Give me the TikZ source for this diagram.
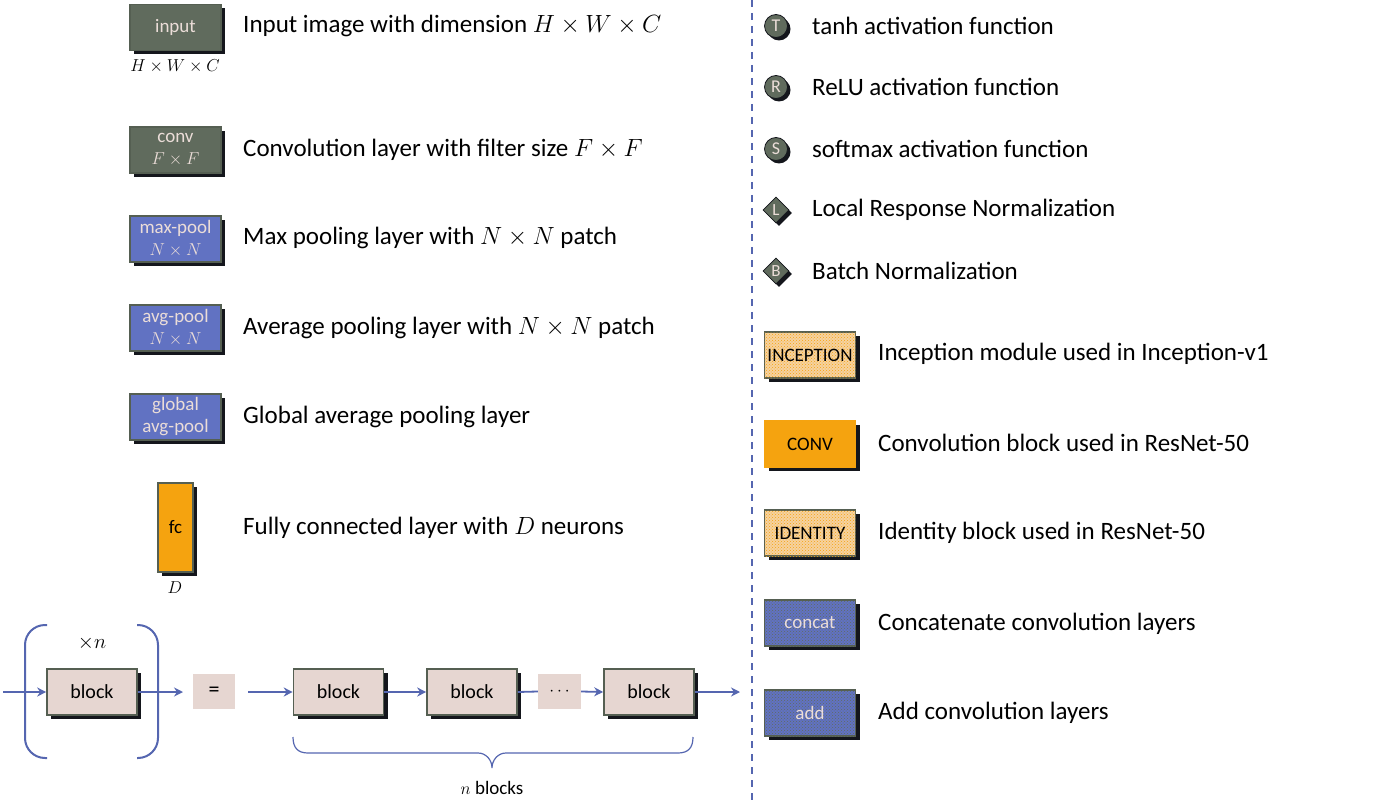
\documentclass[tikz,border=0pt]{standalone}
\usepackage{fontspec}
\setmainfont{Carlito}
\usetikzlibrary{shapes.geometric,shadows,patterns,arrows.meta}
\definecolor{gg}{HTML}{606B5D}
\definecolor{bord}{HTML}{555F52}
\definecolor{bl}{HTML}{6172C2}
\definecolor{org}{HTML}{F5A30F}
\definecolor{lorg}{HTML}{F5D2A0}
\definecolor{pk}{HTML}{E6D6D1}
\definecolor{lt}{HTML}{EBDDD8}
\definecolor{arr}{HTML}{5566B0}
\definecolor{shd}{HTML}{14161C}
\tikzset{
 box/.style={draw=bord, line width=1.6pt, minimum width=91pt, minimum height=46pt, inner sep=0pt, align=center,
   drop shadow={shadow xshift=4pt, shadow yshift=-4pt, fill=shd, opacity=1}, font=\fontsize{19}{22}\selectfont},
 grbox/.style={box, fill=gg, text=lt},
 blbox/.style={box, fill=bl, text=lt},
 orbox/.style={box, fill=org, text=black},
 hatbox/.style={box, fill=lorg, text=black, postaction={pattern=crosshatch dots, pattern color=org}},
 dotbox/.style={box, fill=bl, text=lt, postaction={pattern=crosshatch dots, pattern color=gg}},
 blockbox/.style={box, fill=pk, text=black, minimum width=90pt, font=\fontsize{20}{22}\selectfont},
 plainbox/.style={fill=pk, minimum width=42pt, minimum height=35pt, inner sep=0pt, font=\fontsize{22}{24}\selectfont},
 desc/.style={anchor=west, inner sep=0pt, font=\fontsize{25}{28}\selectfont},
 sublbl/.style={inner sep=0pt, font=\fontsize{18}{20}\selectfont},
 circ/.style={circle, draw=shd, line width=0.8pt, fill=gg, minimum size=23pt, inner sep=0pt, text=lt,
   font=\fontsize{18}{19}\selectfont, drop shadow={shadow xshift=3pt, shadow yshift=-3pt, fill=shd, opacity=1}},
 diam/.style={diamond, draw=shd, line width=0.8pt, fill=gg, minimum size=26pt, inner sep=0pt, text=lt,
   font=\fontsize{17}{18}\selectfont, drop shadow={shadow xshift=3pt, shadow yshift=-3pt, fill=shd, opacity=1}},
 conn/.style={draw=arr, line width=1.8pt, -{Stealth[length=9pt,width=9pt]}},
 plainconn/.style={draw=arr, line width=1.8pt},
 paren/.style={draw=arr, line width=2pt, rounded corners=20pt},
}
\begin{document}
\begin{tikzpicture}[x=1pt,y=-1pt]
\useasboundingbox (0,0) rectangle (1400,810);
% left column legend
\node[grbox] (inp) at (175.5,27.5) {input};
\node[sublbl] (inpl) at (175,66) {$H\times W\times C$};
\node[desc] (inpd) at (243,26) {Input image with dimension $H\times W\times C$};
\node[grbox] (cnv) at (175.5,150) {conv\\$F\times F$};
\node[desc] (cnvd) at (243,150) {Convolution layer with filter size $F\times F$};
\node[blbox] (maxp) at (175.5,239) {max-pool\\$N\times N$};
\node[desc] (maxpd) at (243,238) {Max pooling layer with $N\times N$ patch};
\node[blbox] (avgp) at (175.5,328) {avg-pool\\$N\times N$};
\node[desc] (avgpd) at (243,328) {Average pooling layer with $N\times N$ patch};
\node[blbox] (gap) at (175.5,417) {global\\avg-pool};
\node[desc] (gapd) at (243,417) {Global average pooling layer};
\node[box, fill=org, text=black, minimum width=35pt, minimum height=89pt] (fc) at (175.5,527.5) {fc};
\node[sublbl] (fcl) at (175,588) {$D$};
\node[desc] (fcd) at (243,528) {Fully connected layer with $D$ neurons};
% right column legend
\draw[draw=arr, line width=1.5pt, dash pattern=on 7pt off 6pt] (752,0) -- (752,805);
\node[circ] (t) at (776,26) {T};
\node[desc] (td) at (812,26) {tanh activation function};
\node[circ] (r) at (776,87) {R};
\node[desc] (rd) at (812,87) {ReLU activation function};
\node[circ] (s) at (776,149) {S};
\node[desc] (sd) at (812,149) {softmax activation function};
\node[diam] (l) at (776,210) {L};
\node[desc] (ld) at (812,210) {Local Response Normalization};
\node[diam] (b) at (776,271) {B};
\node[desc] (bd) at (812,271) {Batch Normalization};
\node[hatbox] (incp) at (810,355) {INCEPTION};
\node[desc] (incpd) at (878,354) {Inception module used in Inception-v1};
\node[orbox, draw=org] (convb) at (810,444) {CONV};
\node[desc] (convbd) at (878,443) {Convolution block used in ResNet-50};
\node[hatbox] (idb) at (810,533) {IDENTITY};
\node[desc] (idbd) at (878,533) {Identity block used in ResNet-50};
\node[dotbox] (cat) at (810,623) {concat};
\node[desc] (catd) at (878,624) {Concatenate convolution layers};
\node[dotbox] (add) at (810,713) {add};
\node[desc] (addd) at (878,713) {Add convolution layers};
% repeated block
\coordinate (in0) at (3,692);
\coordinate (out0) at (183,692);
\node[blockbox] (blk) at (92,692) {block};
\node[sublbl, font=\fontsize{20}{22}\selectfont] (xn) at (92,643) {$\times n$};
\draw[paren] (47,625) -- (25,625) -- (25,758) -- (47,758);
\draw[paren] (137,625) -- (158,625) -- (158,758) -- (137,758);
\draw[conn] (in0) -- (blk.west);
\draw[conn] (blk.east) -- (out0);
\node[plainbox] (eq) at (214,691.5) {=};
\coordinate (in1) at (248,692);
\coordinate (out1) at (740,692);
\node[blockbox] (b1) at (338.5,692) {block};
\node[blockbox] (b2) at (472,692) {block};
\node[plainbox, minimum width=43pt, font=\fontsize{16}{18}\selectfont] (dots) at (559.5,691.5) {$\cdots$};
\node[blockbox] (b3) at (649,692) {block};
\draw[conn] (in1) -- (b1.west);
\draw[conn] (b1.east) -- (b2.west);
\draw[plainconn] (b2.east) -- (dots.west);
\draw[conn] (dots.east) -- (b3.west);
\draw[conn] (b3.east) -- (out1);
% brace
\draw[draw=arr, line width=1.2pt]
  (293,737) .. controls (293,748) and (298,753) .. (308,753) -- (478,753)
  .. controls (486,753) and (492,760) .. (492,768)
  .. controls (492,760) and (498,753) .. (506,753) -- (678,753)
  .. controls (688,753) and (693,748) .. (693,737);
\node[sublbl, font=\fontsize{19}{21}\selectfont] (nb) at (492,788) {$n$ blocks};
\end{tikzpicture}
\end{document}
